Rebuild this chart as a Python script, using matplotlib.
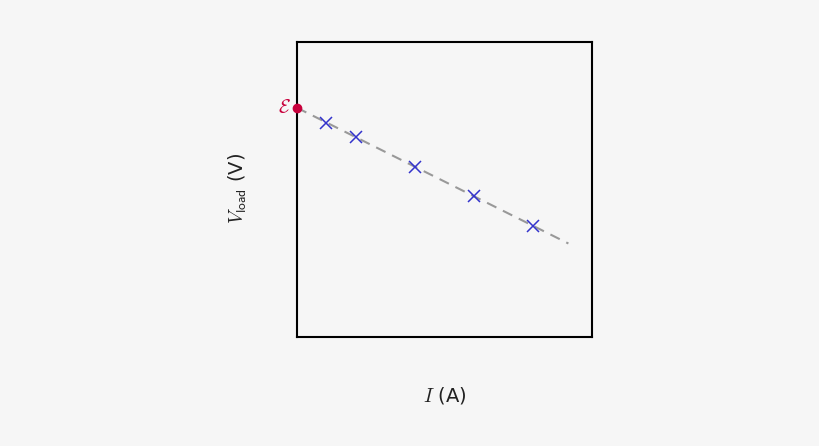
import matplotlib
matplotlib.use("Agg")
import matplotlib.pyplot as plt

emf = 7.8
current = [1, 2, 4, 6, 8]
voltage = [7.3, 6.8, 5.8, 4.8, 3.8]
fit_x = [0, 9.2]
fit_y = [7.8, 3.2]

bg = "#f6f6f6"
fig = plt.figure(figsize=(8.2, 4.46), dpi=100, facecolor=bg)
ax = fig.add_axes([297/820, 1-337/446, 295/820, 295/446], facecolor=bg)
ax.set_xlim(0, 10)
ax.set_ylim(0.03, 10.03)
ax.plot(fit_x, fit_y, ls=(0, (5, 3.5)), color="#999999", lw=1.5, zorder=2)
ax.plot(current, voltage, ls="none", marker="x", ms=9, mew=1.1, color="#3333cc", zorder=3)
ax.plot([0], [emf], marker="o", ms=6, color="#c8003c", clip_on=False, zorder=4)
ax.text(-0.2, emf, r"$\mathcal{E}$", color="#c8003c", fontsize=14, ha="right", va="center",
        math_fontfamily="cm")
ax.set_xticks([])
ax.set_yticks([])
for s in ax.spines.values():
    s.set_linewidth(1.5)
    s.set_color("black")
fig.text(445/820, 1-395/446, r"$I$ (A)", fontsize=14, ha="center", va="center",
         color="#222222", math_fontfamily="cm")
fig.text(238/820, 1-188/446, r"$V_{\mathsf{load}}$ (V)", fontsize=14, ha="center",
         va="center", rotation=90, color="#222222", math_fontfamily="cm")
fig.savefig("out.png", dpi=100, facecolor=bg)
